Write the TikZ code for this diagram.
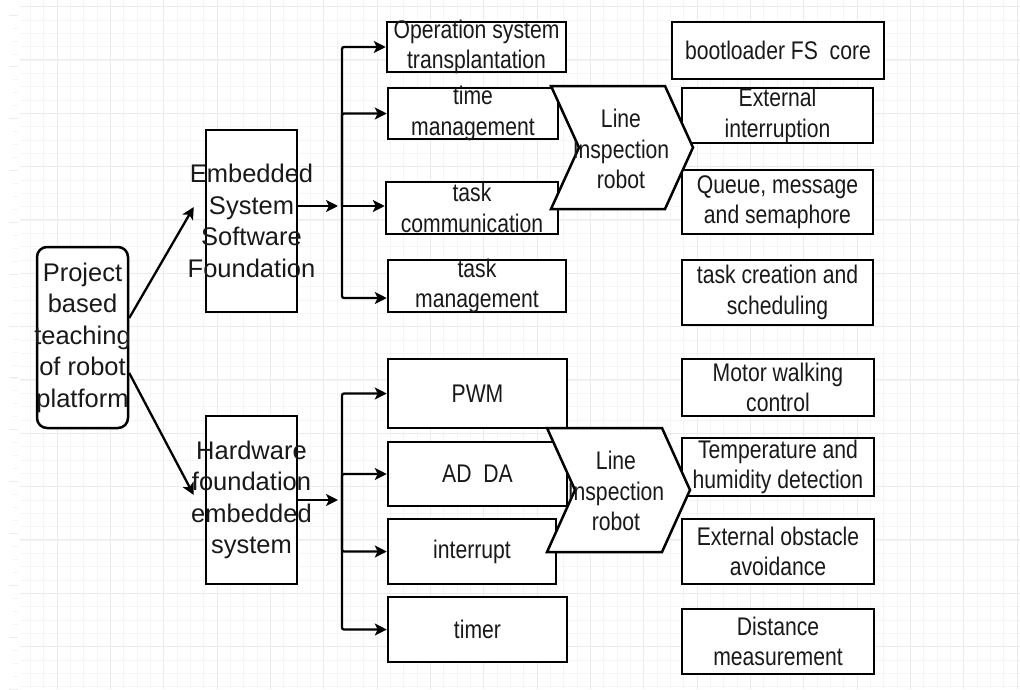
\documentclass[tikz,border=0pt]{standalone}
\usepackage{fontspec}
\setmainfont{Liberation Sans}[FakeStretch=0.83]
\newfontfamily\widefont{Liberation Sans}
\usetikzlibrary{arrows.meta,calc}

\begin{document}
\begin{tikzpicture}[x=1pt, y=-1pt,
        box/.style={draw, rectangle, line width=2.5pt, fill=white, inner sep=0pt},
        txt/.style={align=center, inner sep=0pt, text=black!90, font=\fontsize{25.5}{30.5}\selectfont},
        wtxt/.style={txt, font=\widefont\fontsize{25.5}{31.5}\selectfont},
        lbl/.style={label={[txt]center:#1}},
        wlbl/.style={label={[wtxt]center:#1}},
        arrow/.style={line width=2.3pt, rounded corners=2pt, -{Stealth[length=12pt,width=12pt,inset=3pt]}},
        chev/.style={draw, line width=2.5pt, fill=white, line join=miter},
        gridminor/.style={black!4, line width=0.7pt},
        gridmajor/.style={black!8, line width=1pt}
    ]
        \useasboundingbox (0,0) rectangle (1020,689);
        \fill[white] (0,0) rectangle (1020,689);

        % background grid
        \foreach \k in {2,...,76} \draw[gridminor] ({3.7+13.333*\k},0) -- ({3.7+13.333*\k},689);
        \foreach \k in {0,...,51} \draw[gridminor] (20,{6.6+13.333*\k}) -- (1020,{6.6+13.333*\k});
        \foreach \k in {1,...,19} \draw[gridmajor] ({3.7+53.333*\k},0) -- ({3.7+53.333*\k},689);
        \foreach \k in {0,...,12} \draw[gridmajor] (20,{6.6+53.333*\k}) -- (1020,{6.6+53.333*\k});
        \foreach \k in {0,...,52} \draw[gridminor] (12,{15+12.96*\k}) -- (18,{15+12.96*\k});
        \foreach \k in {0,...,13} \draw[gridmajor] (9,{15+51.85*\k}) -- (18,{15+51.85*\k});

        \node[box, rounded corners=10pt, minimum width=91, minimum height=181, wlbl={Project\\based\\teaching\\of robot\\platform}] (root) at (82.5,337.5) {};

        \node[box, minimum width=91, minimum height=182, wlbl={Embedded\\System\\Software\\Foundation}] (soft) at (251.5,221) {};
        \node[box, minimum width=91, minimum height=168, wlbl={Hardware\\foundation\\embedded\\system}] (hard) at (251.5,500) {};

        \node[box, minimum width=179, minimum height=50, lbl={Operation system\\transplantation}] (os) at (476.5,47) {};
        \node[box, minimum width=170, minimum height=51, lbl={time\\management}] (timemgmt) at (473,113.5) {};
        \node[box, minimum width=172, minimum height=52, lbl={task\\communication}] (taskcomm) at (472,208) {};
        \node[box, minimum width=178, minimum height=52, lbl={task\\management}] (taskmgmt) at (477,286) {};

        \node[box, minimum width=179, minimum height=69, lbl={PWM}] (pwm) at (477.5,393.5) {};
        \node[box, minimum width=179, minimum height=64, lbl={AD\ \ DA}] (adda) at (477.5,474) {};
        \node[box, minimum width=168, minimum height=65, lbl={interrupt}] (intr) at (472,551.5) {};
        \node[box, minimum width=179, minimum height=65, lbl={timer}] (timer) at (477.5,629.5) {};

        \node[box, minimum width=212, minimum height=57, lbl={bootloader FS\ \ core}] (boot) at (778,50.5) {};
        \node[box, minimum width=191, minimum height=55, lbl={External\\interruption}] (extint) at (777.5,115.5) {};
        \node[box, minimum width=191, minimum height=64, lbl={Queue, message\\and semaphore}] (queue) at (777.5,202) {};
        \node[box, minimum width=191, minimum height=65, lbl={task creation and\\scheduling}] (taskcreate) at (777.5,292.5) {};

        \node[box, minimum width=192, minimum height=57, lbl={Motor walking\\control}] (motor) at (778,387.5) {};
        \node[box, minimum width=192, minimum height=58, lbl={Temperature and\\humidity detection}] (temp) at (778,467) {};
        \node[box, minimum width=192, minimum height=65, lbl={External obstacle\\avoidance}] (obstacle) at (778,551.5) {};
        \node[box, minimum width=192, minimum height=65, lbl={Distance\\measurement}] (dist) at (778,641.5) {};

        \draw[arrow] ([yshift=19.5pt]root.east) -- ([xshift=-11pt,yshift=14pt]soft.west);
        \draw[arrow] ([yshift=-35.5pt]root.east) -- ([xshift=-11pt,yshift=5pt]hard.west);

        \coordinate (js) at (342,206);
        \coordinate (jh) at (342,500);

        \draw[arrow, shorten >=4pt] (soft.east |- js) -- (js);
        \draw[arrow] (js) |- (os.west);
        \draw[arrow] (js) |- (timemgmt.west);
        \draw[arrow] (js) -- (js -| taskcomm.west);
        \draw[arrow] (js) |- ($(taskmgmt.west)+(0,12)$);

        \draw[arrow, shorten >=4pt] (hard.east |- jh) -- (jh);
        \foreach \n in {pwm,adda,intr,timer} \draw[arrow] (jh) |- (\n.west);

        \draw[chev] (551,86) -- (665,86) -- (693,147.5) -- (665,209) -- (551,209) -- (579,147.5) -- cycle;
        \node[txt] (robot1) at (621,149) {Line\\Inspection\\robot};

        \draw[chev] (547,428) -- (662,428) -- (690,490) -- (662,552) -- (547,552) -- (575,490) -- cycle;
        \node[txt] (robot2) at (616,491) {Line\\Inspection\\robot};
    \end{tikzpicture}
\end{document}
